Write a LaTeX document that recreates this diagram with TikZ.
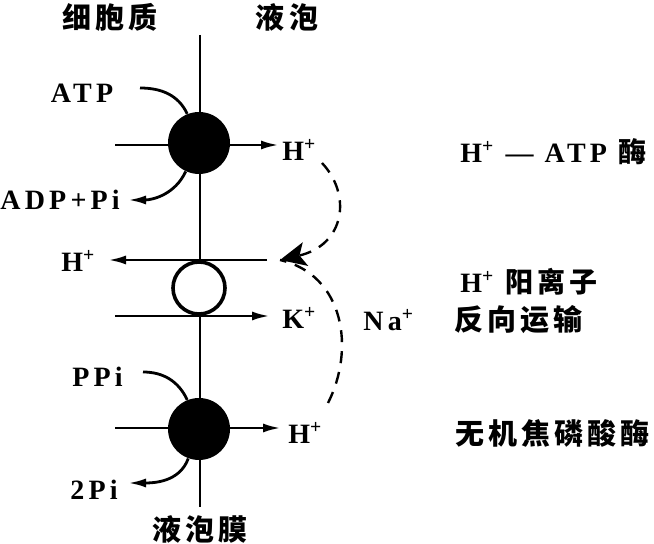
\documentclass[tikz,border=0pt]{standalone}
\usepackage{fontspec}
\setmainfont{Liberation Serif}[LetterSpace=15]
\newfontfamily\cjk{Noto Sans CJK SC}[LetterSpace=14]
\usetikzlibrary{arrows.meta}

\tikzset{
    lat/.style={font=\bfseries\fontsize{14}{16}\selectfont, inner sep=0pt},
    han/.style={font=\cjk\bfseries\fontsize{14.5}{16}\selectfont, inner sep=0pt},
    pipe/.style={line width=1.4pt},
    tipped/.style={-{Latex[length=9pt,width=4.5pt]}},
    pump/.style={circle, fill=black, minimum size=31pt, inner sep=0pt},
    porter/.style={circle, draw=black, fill=white, line width=1.8pt, minimum size=26pt, inner sep=0pt},
    leak/.style={line width=1.2pt, dash pattern=on 6pt off 4.5pt}
}

\begin{document}
\begin{tikzpicture}[x=0.5pt,y=-0.5pt]
    \useasboundingbox (0,0) rectangle (654,544);

    % Membrane
    \coordinate (memtop) at (200,35);
    \coordinate (membot) at (200,507);
    \draw[pipe] (memtop) -- (membot);
    \node[han] (cyto) at (110,17) {细胞质};
    \node[han] (vac) at (287,17) {液泡};
    \node[han] (tono) at (200,529) {液泡膜};

    % H+-ATPase
    \coordinate (in1) at (115,145);
    \coordinate (out1) at (279,145);
    \draw[pipe,tipped] (in1) -- (out1);
    \node[pump] (atpase) at (199,143) {};
    \node[lat] (atp) at (82,93) {ATP};
    \node[lat,anchor=west] (adp) at (0,200) {ADP+Pi};
    \coordinate (atpin) at (140,88);
    \coordinate (adpout) at (128,200);
    \draw[pipe] (atpin) to[out=0,in=115] (atpase.112);
    \draw[pipe,tipped] (atpase.245) to[out=245,in=0] (adpout);
    \node[lat,anchor=west] (hout1) at (282,150) {H\textsuperscript{+}};

    % H+ antiporter
    \coordinate (in2) at (267,260);
    \coordinate (out2) at (108,260);
    \coordinate (in3) at (115,316);
    \coordinate (out3) at (270,316);
    \draw[pipe,tipped] (in2) -- (out2);
    \draw[pipe,tipped] (in3) -- (out3);
    \node[porter] (anti) at (199,288) {};
    \node[lat,anchor=west] (hin2) at (61,261) {H\textsuperscript{+}};
    \node[lat,anchor=west] (kout) at (282,318) {K\textsuperscript{+}};
    \node[lat,anchor=west] (na) at (363,320) {Na\textsuperscript{+}};

    % Pyrophosphatase
    \coordinate (in4) at (115,428);
    \coordinate (out4) at (281,428);
    \draw[pipe,tipped] (in4) -- (out4);
    \node[pump] (ppase) at (199,429) {};
    \node[lat,anchor=west] (ppi) at (72,377) {PPi};
    \node[lat,anchor=west] (pi2) at (70,490) {2Pi};
    \coordinate (ppin) at (143,372);
    \coordinate (piout) at (128,483);
    \draw[pipe] (ppin) to[out=0,in=115] (ppase.112);
    \draw[pipe,tipped] (ppase.250) to[out=250,in=0] (piout);
    \node[lat,anchor=west] (hout3) at (288,433) {H\textsuperscript{+}};

    % H+ back into the antiporter
    \coordinate (hsrc1) at (322,163);
    \coordinate (hsrc3) at (328,403);
    \coordinate (hdst) at (280,260);
    \draw[leak,-{Stealth[length=13pt,width=12pt,inset=3pt]}] (hsrc1) .. controls (352,195) and (345,245) .. (hdst);
    \draw[leak] (hsrc3) .. controls (355,350) and (345,275) .. (hdst);

    % Names
    \node[lat,anchor=west] (nm1) at (460,152) {H\textsuperscript{+} — ATP {\cjk 酶}};
    \node[lat,anchor=west] (nm2) at (460,282) {H\textsuperscript{+} {\cjk 阳离子}};
    \node[han,anchor=west] (nm3) at (454,320) {反向运输};
    \node[han,anchor=west] (nm4) at (455,433) {无机焦磷酸酶};
\end{tikzpicture}
\end{document}
